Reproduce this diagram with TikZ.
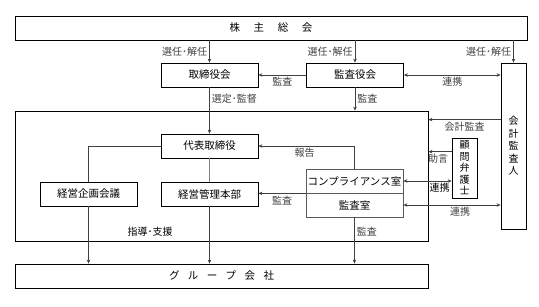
\documentclass[tikz,border=0pt]{standalone}
\usepackage{fontspec}
\setmainfont{Noto Sans CJK JP}
\usetikzlibrary{arrows.meta, positioning}

\begin{document}
\begin{tikzpicture}[
  x=1pt, y=-1pt,
  box/.style = {
    draw, line width=0.8pt, inner sep=0pt,
    minimum width=#1, minimum height=24pt,
    font=\fontsize{10.5}{12}\selectfont
  },
  box/.default = 97pt,
  tallbox/.style = {
    draw, line width=0.8pt, inner sep=0pt, align=center,
    minimum width=25pt, minimum height=#1,
    font=\fontsize{10}{12.5}\selectfont
  },
  lbl/.style = {font=\fontsize{10}{12}\selectfont, inner sep=2pt},
  arr/.style = {-{Stealth[length=4pt,width=3.5pt]}, line width=0.6pt, black!75},
  link/.style = {{Stealth[length=4pt,width=3.5pt]}-{Stealth[length=4pt,width=3.5pt]},
                 line width=0.6pt, black!75},
  plain/.style = {line width=0.6pt, black!75}
]
\useasboundingbox (0,0) rectangle (539,306);

% outer frame of the executive side
\node[draw, line width=0.8pt, minimum width=413pt, minimum height=130pt]
  (shikko) at (221.5,176) {};

\node[box=512pt] (soukai) at (271,28) {株\hspace{1.3em}主\hspace{1.3em}総\hspace{1.3em}会};
\node[box] (torishimari) at (209.5,75) {取締役会};
\node[box] (kansayaku)   at (355,75)   {監査役会};
\node[tallbox=166pt] (kaikei) at (513.5,146) {会\\計\\監\\査\\人};

\node[box] (daihyo) at (209.5,146) {代表取締役};
\node[box] (kikaku) at (88.5,194)  {経営企画会議};
\node[box] (kanri)  at (209.5,194) {経営管理本部};
\node[box, draw=black!65] (compliance) at (354.5,181) {コンプライアンス室};
\node[box, draw=black!65] (kansa)      at (354.5,205) {監査室};
\node[tallbox=60pt, line width=0.6pt, font=\fontsize{10}{11.5}\selectfont]
  (komon) at (464.5,168) {顧\\問\\弁\\護\\士};

\node[box=413pt] (group) at (221.5,276)
  {グ\hspace{0.8em}ル\hspace{0.8em}ー\hspace{0.8em}プ\hspace{0.8em}会\hspace{0.8em}社};

% shareholders' meeting
\draw[arr] (torishimari |- soukai.south) -- node[lbl, left]{選任･解任} (torishimari.north);
\draw[arr] (kansayaku |- soukai.south) -- node[lbl, left]{選任･解任} (kansayaku.north);
\draw[arr] (kaikei |- soukai.south) -- node[lbl, left]{選任･解任} (kaikei.north);

% audit board
\draw[arr] (kansayaku.west) -- node[lbl, below]{監査} (torishimari.east);
\draw[link] (kansayaku.east) -- node[lbl, below]{連携} (kansayaku.east -| kaikei.west);
\draw[arr] (kansayaku.south) -- node[lbl, right]{監査} (kansayaku |- shikko.north);
\draw[arr] (torishimari.south) -- node[lbl, right, pos=0.25]{選定･監督} (daihyo.north);

% executive side
\draw[plain] (daihyo.west) -| (kikaku.north);
\draw[plain, black!50] (daihyo.south) -- (kanri.north);
\draw[arr] (compliance.north) |- node[lbl, below, pos=0.76]{報告} (daihyo.east);
\draw[arr] (compliance.south west) -- node[lbl, below]{監査} (compliance.south west -| kanri.east);

% outside parties
\draw[arr] ([yshift=-57pt]kaikei.north west) coordinate (k1)
  -- node[lbl, below]{会計監査} (k1 -| shikko.east);
\draw[arr] ([yshift=-14pt]komon.north west) coordinate (k2)
  -- node[lbl, below, xshift=-2pt]{助言} (k2 -| shikko.east);
\draw[link] (compliance.east) -- (compliance.east -| komon.west);
\node[lbl, below left=0pt and 0pt of komon.west, yshift=-13pt] (renkei1) {連携};
\draw[link] (kansa.east) -- node[lbl, below, xshift=8pt]{連携} (kansa.east -| kaikei.west);

% group companies
\draw[arr] (kikaku.south) -- (kikaku |- group.north);
\draw[arr] (kanri.south) -- (kanri |- group.north);
\node[lbl] (shien) at (150,232) {指導･支援};
\draw[arr] (kansa.south) -- node[lbl, right, pos=0.3]{監査} (kansa |- group.north);

\end{tikzpicture}
\end{document}
